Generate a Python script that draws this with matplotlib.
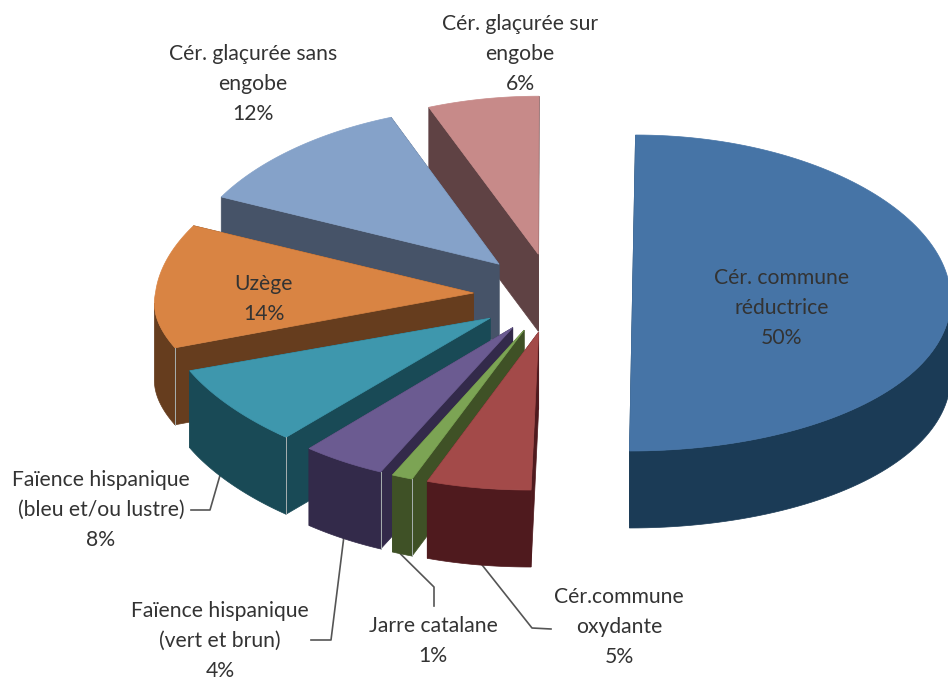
import numpy as np
import matplotlib
matplotlib.use('Agg')
import matplotlib.pyplot as plt
from matplotlib.patches import Polygon

plt.rcParams['font.family'] = ['Lato', 'DejaVu Sans']

# clockwise from 12 o'clock
names = ['Cér. commune\nréductrice', 'Cér.commune\noxydante', 'Jarre catalane',
         'Faïence hispanique\n(vert et brun)', 'Faïence hispanique\n(bleu et/ou lustre)',
         'Uzège', 'Cér. glaçurée sans\nengobe', 'Cér. glaçurée sur\nengobe']
values = [50, 5, 1, 4, 8, 14, 12, 6]
top_colors = ['#4674A6', '#A34A49', '#7CA454', '#6B5B91', '#3E97AD', '#D98443', '#85A2C9', '#C78A89']
wall_colors = ['#1B3B56', '#4F1A1E', '#3F5126', '#332A4A', '#194A56', '#663D1E', '#465368', '#5F4244']

# label centres, pixels
label_x = [782, 619, 433, 220, 101, 264, 253, 520]
label_y = [308, 627, 641, 641, 510, 299, 84, 54]

cx, cy = 553, 293
ry = 158
rx = 318
persp = 0.05
shear = 7
squash = 19
wall = 77
explode = 0.25


def project(wx, wy, lift=0.0):
    # flat pie coords to screen, lift=1 is the bottom of the wall
    wx, wy = np.asarray(wx, float), np.asarray(wy, float)
    lean = np.where(wx > 0, wy, np.minimum(wy, 0))
    sx = cx + wx * rx * (1 - persp * wy) + shear * lean
    sy = cy - wy * ry - squash * np.where((wx < 0) & (wy < 0), np.abs(wx) ** 3 * np.abs(wy), 0)
    return sx, sy + lift * wall


def wedge_pts(a0, a1, n=120):
    mid = np.radians((a0 + a1) / 2)
    ex, ey = explode * np.sin(mid), explode * np.cos(mid)
    t = np.radians(np.linspace(a0, a1, n))
    return ex, ey, ex + np.sin(t), ey + np.cos(t)


fig = plt.figure(figsize=(9.48, 6.80), dpi=100)
ax = fig.add_axes([0, 0, 1, 1])
ax.set_xlim(0, 948)
ax.set_ylim(680, 0)
ax.axis('off')

edges = np.cumsum([0] + values) * 3.6
slices = []
for i in range(len(values)):
    ex, ey, ax_x, ax_y = wedge_pts(edges[i], edges[i + 1])
    slices.append((i, ex, ey, ax_x, ax_y))

# back to front; big slice is on its own so order against others does not matter
order = sorted(slices, key=lambda s: -(s[2] + s[4].mean()))
z = 2
for i, ex, ey, wx, wy in order:
    apex_top = project(ex, ey)
    apex_bot = project(ex, ey, 1)
    x_top, y_top = project(wx, wy)
    x_bot, y_bot = project(wx, wy, 1)
    c = wall_colors[i]
    # radial walls
    for k in (0, -1):
        ax.add_patch(Polygon([apex_top, (x_top[k], y_top[k]), (x_bot[k], y_bot[k]), apex_bot],
                             fc=c, ec=c, lw=0.5, zorder=z))
    # outer wall, only the part facing us; starts at the silhouette when the slice has one
    front = wy < ey
    far_left = int(np.argmin(x_top))
    if 0 < far_left < len(x_top) - 1:
        front = wy <= wy[far_left]
    if front.any():
        pts = list(zip(x_top[front], y_top[front])) + list(zip(x_bot[front], y_bot[front]))[::-1]
        ax.add_patch(Polygon(pts, fc=c, ec=c, lw=0.5, zorder=z))
    pts = [apex_top] + list(zip(x_top, y_top))
    ax.add_patch(Polygon(pts, fc=top_colors[i], ec=top_colors[i], lw=0.5, zorder=z + 1))
    if i in (2, 3, 4, 5):
        # pale seam at the near corner
        ax.plot([x_top[0], x_bot[0]], [y_top[0], y_bot[0]],
                color='#A8B0B0', lw=0.7, zorder=z + 1)
    z += 2

# leader lines, from the foot of the slice
leaders = {1: (0.47, [(532, 628), (551, 629)]),
           2: (0.6, [(434, 587), (434, 606)]),
           3: (0.5, [(331, 640), (311, 640)]),
           4: (0.6, [(210, 510), (191, 510)])}
for i, (frac, elbow) in leaders.items():
    ex, ey, wx, wy = wedge_pts(edges[i], edges[i + 1])
    k = int(frac * (len(wx) - 1))
    x_bot, y_bot = project(wx, wy, 1)
    xs = [x_bot[k]] + [p[0] for p in elbow]
    ys = [y_bot[k]] + [p[1] for p in elbow]
    ax.plot(xs, ys, color='#555555', lw=1.2, zorder=1)

for i, name in enumerate(names):
    ax.text(label_x[i], label_y[i], name + '\n%d%%' % values[i], ha='center', va='center',
            fontsize=15.2, color='#333333', linespacing=1.65, zorder=60)

fig.savefig('out.png', dpi=100)
